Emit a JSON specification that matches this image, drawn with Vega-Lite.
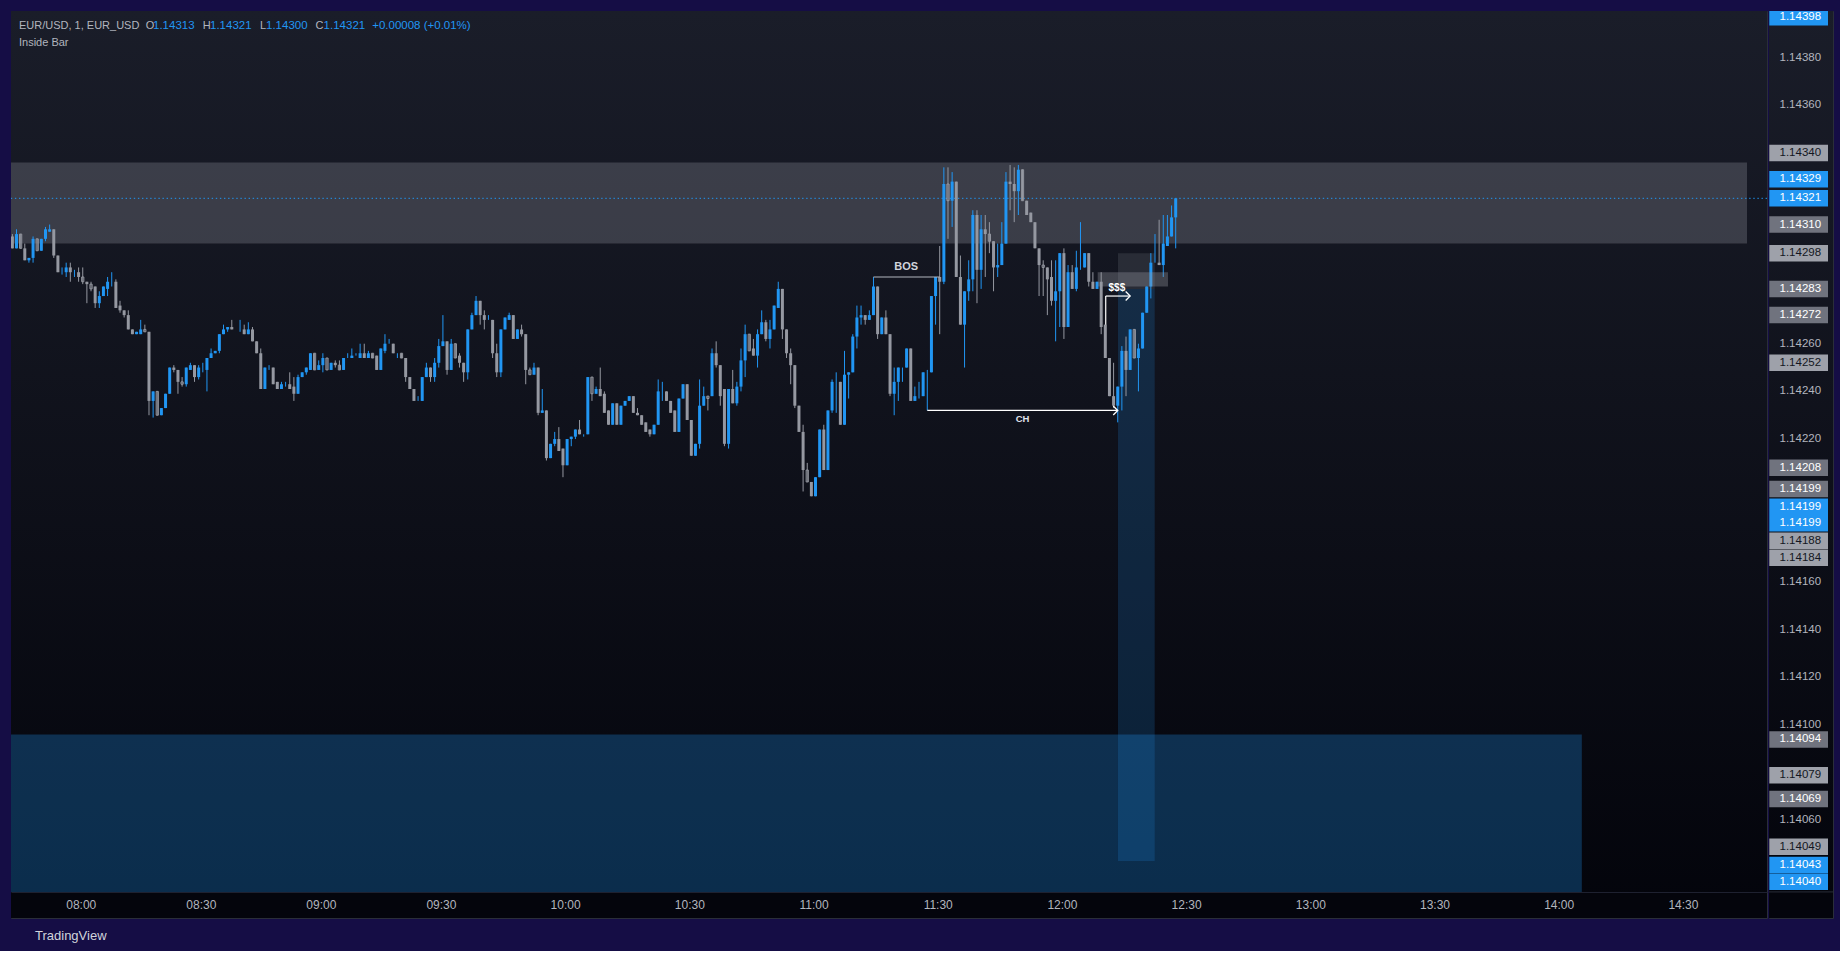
{
"$schema":"https://vega.github.io/schema/vega-lite/v6.json",
"background":"#150d45",
"padding":{"left":10,"top":10,"right":10,"bottom":8},
"spacing":0,
"config":{"font":"Liberation Sans","view":{"stroke":"#2a2e39","strokeWidth":1}},
"title":{"text":"TradingView","orient":"bottom","anchor":"start","frame":"group","offset":11,"dx":24,"fontSize":13,"fontWeight":"normal","color":"#d1d4dc","font":"Liberation Sans","baseline":"top"},
"datasets":{
"candles":[
{"i":1,"o":1.14305,"h":1.14306,"l":1.14300,"c":1.14300},
{"i":2,"o":1.14300,"h":1.14308,"l":1.14300,"c":1.14306},
{"i":3,"o":1.14306,"h":1.14306,"l":1.14300,"c":1.14300,"ib":1},
{"i":4,"o":1.14300,"h":1.14302,"l":1.14295,"c":1.14295},
{"i":5,"o":1.14295,"h":1.14296,"l":1.14294,"c":1.14296},
{"i":6,"o":1.14296,"h":1.14305,"l":1.14294,"c":1.14304},
{"i":7,"o":1.14304,"h":1.14304,"l":1.14299,"c":1.14299,"ib":1},
{"i":8,"o":1.14299,"h":1.14304,"l":1.14299,"c":1.14304},
{"i":9,"o":1.14304,"h":1.14309,"l":1.14303,"c":1.14308},
{"i":10,"o":1.14307,"h":1.14310,"l":1.14307,"c":1.14308},
{"i":11,"o":1.14308,"h":1.14308,"l":1.14296,"c":1.14297},
{"i":12,"o":1.14297,"h":1.14297,"l":1.14290,"c":1.14290},
{"i":13,"o":1.14290,"h":1.14292,"l":1.14289,"c":1.14290},
{"i":14,"o":1.14290,"h":1.14294,"l":1.14288,"c":1.14292},
{"i":15,"o":1.14292,"h":1.14294,"l":1.14286,"c":1.14290},
{"i":16,"o":1.14290,"h":1.14291,"l":1.14288,"c":1.14290},
{"i":17,"o":1.14290,"h":1.14292,"l":1.14286,"c":1.14288},
{"i":18,"o":1.14288,"h":1.14292,"l":1.14285,"c":1.14286,"ib":1},
{"i":19,"o":1.14286,"h":1.14286,"l":1.14277,"c":1.14285},
{"i":20,"o":1.14285,"h":1.14286,"l":1.14282,"c":1.14283,"ib":1},
{"i":21,"o":1.14284,"h":1.14284,"l":1.14275,"c":1.14277},
{"i":22,"o":1.14277,"h":1.14282,"l":1.14275,"c":1.14280},
{"i":23,"o":1.14280,"h":1.14284,"l":1.14280,"c":1.14284},
{"i":24,"o":1.14283,"h":1.14288,"l":1.14280,"c":1.14286},
{"i":25,"o":1.14286,"h":1.14290,"l":1.14284,"c":1.14286},
{"i":26,"o":1.14286,"h":1.14287,"l":1.14275,"c":1.14275},
{"i":27,"o":1.14276,"h":1.14278,"l":1.14273,"c":1.14274},
{"i":28,"o":1.14274,"h":1.14274,"l":1.14271,"c":1.14272},
{"i":29,"o":1.14272,"h":1.14274,"l":1.14266,"c":1.14266},
{"i":30,"o":1.14266,"h":1.14266,"l":1.14264,"c":1.14264},
{"i":31,"o":1.14264,"h":1.14265,"l":1.14264,"c":1.14265},
{"i":32,"o":1.14264,"h":1.14270,"l":1.14264,"c":1.14266},
{"i":33,"o":1.14266,"h":1.14268,"l":1.14265,"c":1.14265,"ib":1},
{"i":34,"o":1.14265,"h":1.14265,"l":1.14230,"c":1.14236},
{"i":35,"o":1.14236,"h":1.14240,"l":1.14229,"c":1.14240},
{"i":36,"o":1.14240,"h":1.14240,"l":1.14230,"c":1.14230,"ib":1},
{"i":37,"o":1.14230,"h":1.14233,"l":1.14230,"c":1.14233},
{"i":38,"o":1.14233,"h":1.14239,"l":1.14233,"c":1.14239},
{"i":39,"o":1.14239,"h":1.14250,"l":1.14239,"c":1.14250},
{"i":40,"o":1.14250,"h":1.14251,"l":1.14248,"c":1.14249},
{"i":41,"o":1.14249,"h":1.14249,"l":1.14239,"c":1.14244},
{"i":42,"o":1.14244,"h":1.14246,"l":1.14242,"c":1.14243,"ib":1},
{"i":43,"o":1.14243,"h":1.14250,"l":1.14242,"c":1.14250},
{"i":44,"o":1.14249,"h":1.14252,"l":1.14249,"c":1.14251},
{"i":45,"o":1.14251,"h":1.14251,"l":1.14244,"c":1.14246},
{"i":46,"o":1.14246,"h":1.14251,"l":1.14245,"c":1.14250},
{"i":47,"o":1.14250,"h":1.14252,"l":1.14248,"c":1.14250},
{"i":48,"o":1.14249,"h":1.14254,"l":1.14240,"c":1.14254},
{"i":49,"o":1.14254,"h":1.14258,"l":1.14254,"c":1.14256},
{"i":50,"o":1.14256,"h":1.14257,"l":1.14256,"c":1.14257},
{"i":51,"o":1.14257,"h":1.14264,"l":1.14256,"c":1.14264},
{"i":52,"o":1.14264,"h":1.14268,"l":1.14264,"c":1.14266},
{"i":53,"o":1.14266,"h":1.14267,"l":1.14265,"c":1.14267},
{"i":54,"o":1.14267,"h":1.14270,"l":1.14266,"c":1.14266},
{"i":55,"o":1.14266,"h":1.14266,"l":1.14266,"c":1.14266},
{"i":56,"o":1.14266,"h":1.14270,"l":1.14265,"c":1.14266},
{"i":57,"o":1.14266,"h":1.14268,"l":1.14264,"c":1.14264},
{"i":58,"o":1.14264,"h":1.14269,"l":1.14264,"c":1.14266},
{"i":59,"o":1.14266,"h":1.14267,"l":1.14261,"c":1.14261},
{"i":60,"o":1.14261,"h":1.14261,"l":1.14256,"c":1.14256},
{"i":61,"o":1.14256,"h":1.14258,"l":1.14241,"c":1.14241},
{"i":62,"o":1.14241,"h":1.14250,"l":1.14241,"c":1.14250},
{"i":63,"o":1.14250,"h":1.14251,"l":1.14249,"c":1.14250},
{"i":64,"o":1.14250,"h":1.14250,"l":1.14243,"c":1.14243},
{"i":65,"o":1.14244,"h":1.14244,"l":1.14241,"c":1.14241},
{"i":66,"o":1.14241,"h":1.14244,"l":1.14241,"c":1.14243},
{"i":67,"o":1.14243,"h":1.14244,"l":1.14242,"c":1.14243},
{"i":68,"o":1.14243,"h":1.14248,"l":1.14241,"c":1.14241},
{"i":69,"o":1.14242,"h":1.14246,"l":1.14236,"c":1.14239},
{"i":70,"o":1.14239,"h":1.14247,"l":1.14239,"c":1.14246},
{"i":71,"o":1.14246,"h":1.14248,"l":1.14246,"c":1.14248},
{"i":72,"o":1.14248,"h":1.14250,"l":1.14247,"c":1.14250},
{"i":73,"o":1.14249,"h":1.14256,"l":1.14249,"c":1.14256},
{"i":74,"o":1.14256,"h":1.14256,"l":1.14249,"c":1.14249,"ib":1},
{"i":75,"o":1.14249,"h":1.14253,"l":1.14249,"c":1.14251},
{"i":76,"o":1.14251,"h":1.14256,"l":1.14248,"c":1.14254},
{"i":77,"o":1.14254,"h":1.14254,"l":1.14249,"c":1.14249,"ib":1},
{"i":78,"o":1.14249,"h":1.14252,"l":1.14249,"c":1.14252},
{"i":79,"o":1.14252,"h":1.14253,"l":1.14250,"c":1.14251},
{"i":80,"o":1.14251,"h":1.14253,"l":1.14249,"c":1.14249,"ib":1},
{"i":81,"o":1.14249,"h":1.14254,"l":1.14249,"c":1.14254},
{"i":82,"o":1.14254,"h":1.14256,"l":1.14254,"c":1.14254},
{"i":83,"o":1.14254,"h":1.14258,"l":1.14254,"c":1.14255},
{"i":84,"o":1.14255,"h":1.14256,"l":1.14255,"c":1.14255},
{"i":85,"o":1.14254,"h":1.14260,"l":1.14254,"c":1.14256},
{"i":86,"o":1.14256,"h":1.14260,"l":1.14254,"c":1.14254},
{"i":87,"o":1.14254,"h":1.14257,"l":1.14254,"c":1.14256},
{"i":88,"o":1.14256,"h":1.14256,"l":1.14254,"c":1.14254,"ib":1},
{"i":89,"o":1.14255,"h":1.14255,"l":1.14249,"c":1.14249},
{"i":90,"o":1.14249,"h":1.14258,"l":1.14249,"c":1.14258},
{"i":91,"o":1.14257,"h":1.14264,"l":1.14256,"c":1.14260},
{"i":92,"o":1.14260,"h":1.14262,"l":1.14260,"c":1.14260},
{"i":93,"o":1.14260,"h":1.14260,"l":1.14256,"c":1.14256},
{"i":94,"o":1.14256,"h":1.14256,"l":1.14254,"c":1.14256},
{"i":95,"o":1.14256,"h":1.14256,"l":1.14254,"c":1.14254,"ib":1},
{"i":96,"o":1.14254,"h":1.14254,"l":1.14244,"c":1.14246},
{"i":97,"o":1.14246,"h":1.14246,"l":1.14241,"c":1.14241},
{"i":98,"o":1.14241,"h":1.14241,"l":1.14236,"c":1.14236},
{"i":99,"o":1.14236,"h":1.14238,"l":1.14236,"c":1.14236},
{"i":100,"o":1.14236,"h":1.14246,"l":1.14236,"c":1.14246},
{"i":101,"o":1.14246,"h":1.14252,"l":1.14246,"c":1.14250},
{"i":102,"o":1.14250,"h":1.14250,"l":1.14244,"c":1.14246},
{"i":103,"o":1.14246,"h":1.14254,"l":1.14244,"c":1.14252},
{"i":104,"o":1.14252,"h":1.14262,"l":1.14250,"c":1.14259},
{"i":105,"o":1.14259,"h":1.14272,"l":1.14259,"c":1.14261},
{"i":106,"o":1.14261,"h":1.14261,"l":1.14247,"c":1.14249},
{"i":107,"o":1.14249,"h":1.14262,"l":1.14249,"c":1.14260},
{"i":108,"o":1.14260,"h":1.14260,"l":1.14254,"c":1.14254,"ib":1},
{"i":109,"o":1.14255,"h":1.14256,"l":1.14250,"c":1.14252},
{"i":110,"o":1.14252,"h":1.14252,"l":1.14244,"c":1.14248},
{"i":111,"o":1.14248,"h":1.14266,"l":1.14245,"c":1.14266},
{"i":112,"o":1.14266,"h":1.14273,"l":1.14266,"c":1.14272},
{"i":113,"o":1.14272,"h":1.14280,"l":1.14272,"c":1.14278},
{"i":114,"o":1.14278,"h":1.14278,"l":1.14268,"c":1.14272},
{"i":115,"o":1.14272,"h":1.14274,"l":1.14266,"c":1.14270},
{"i":116,"o":1.14270,"h":1.14272,"l":1.14270,"c":1.14270},
{"i":117,"o":1.14270,"h":1.14270,"l":1.14254,"c":1.14256},
{"i":118,"o":1.14256,"h":1.14260,"l":1.14246,"c":1.14248},
{"i":119,"o":1.14248,"h":1.14266,"l":1.14246,"c":1.14266},
{"i":120,"o":1.14266,"h":1.14271,"l":1.14266,"c":1.14271},
{"i":121,"o":1.14270,"h":1.14273,"l":1.14270,"c":1.14272},
{"i":122,"o":1.14272,"h":1.14272,"l":1.14262,"c":1.14262},
{"i":123,"o":1.14262,"h":1.14266,"l":1.14262,"c":1.14266},
{"i":124,"o":1.14266,"h":1.14268,"l":1.14263,"c":1.14264},
{"i":125,"o":1.14264,"h":1.14264,"l":1.14243,"c":1.14249},
{"i":126,"o":1.14249,"h":1.14250,"l":1.14247,"c":1.14247,"ib":1},
{"i":127,"o":1.14247,"h":1.14252,"l":1.14247,"c":1.14250},
{"i":128,"o":1.14250,"h":1.14250,"l":1.14230,"c":1.14231},
{"i":129,"o":1.14231,"h":1.14241,"l":1.14231,"c":1.14232},
{"i":130,"o":1.14232,"h":1.14232,"l":1.14211,"c":1.14212},
{"i":131,"o":1.14212,"h":1.14218,"l":1.14212,"c":1.14218},
{"i":132,"o":1.14218,"h":1.14223,"l":1.14217,"c":1.14220},
{"i":133,"o":1.14220,"h":1.14225,"l":1.14215,"c":1.14215},
{"i":134,"o":1.14216,"h":1.14216,"l":1.14204,"c":1.14209},
{"i":135,"o":1.14209,"h":1.14220,"l":1.14209,"c":1.14220},
{"i":136,"o":1.14220,"h":1.14221,"l":1.14217,"c":1.14221},
{"i":137,"o":1.14221,"h":1.14224,"l":1.14220,"c":1.14224},
{"i":138,"o":1.14224,"h":1.14228,"l":1.14222,"c":1.14222},
{"i":139,"o":1.14222,"h":1.14222,"l":1.14221,"c":1.14222},
{"i":140,"o":1.14222,"h":1.14246,"l":1.14222,"c":1.14246},
{"i":141,"o":1.14246,"h":1.14246,"l":1.14236,"c":1.14239,"ib":1},
{"i":142,"o":1.14239,"h":1.14242,"l":1.14239,"c":1.14241},
{"i":143,"o":1.14241,"h":1.14250,"l":1.14238,"c":1.14238},
{"i":144,"o":1.14239,"h":1.14240,"l":1.14231,"c":1.14231},
{"i":145,"o":1.14232,"h":1.14232,"l":1.14226,"c":1.14226},
{"i":146,"o":1.14226,"h":1.14235,"l":1.14226,"c":1.14235},
{"i":147,"o":1.14235,"h":1.14235,"l":1.14226,"c":1.14226},
{"i":148,"o":1.14226,"h":1.14234,"l":1.14226,"c":1.14234},
{"i":149,"o":1.14234,"h":1.14236,"l":1.14234,"c":1.14236},
{"i":150,"o":1.14236,"h":1.14238,"l":1.14236,"c":1.14238},
{"i":151,"o":1.14238,"h":1.14238,"l":1.14231,"c":1.14231},
{"i":152,"o":1.14231,"h":1.14233,"l":1.14230,"c":1.14230},
{"i":153,"o":1.14230,"h":1.14230,"l":1.14226,"c":1.14226},
{"i":154,"o":1.14227,"h":1.14227,"l":1.14223,"c":1.14223},
{"i":155,"o":1.14224,"h":1.14224,"l":1.14221,"c":1.14222},
{"i":156,"o":1.14222,"h":1.14226,"l":1.14222,"c":1.14226},
{"i":157,"o":1.14226,"h":1.14245,"l":1.14226,"c":1.14240},
{"i":158,"o":1.14240,"h":1.14244,"l":1.14236,"c":1.14240},
{"i":159,"o":1.14240,"h":1.14240,"l":1.14236,"c":1.14236},
{"i":160,"o":1.14236,"h":1.14236,"l":1.14231,"c":1.14231},
{"i":161,"o":1.14232,"h":1.14232,"l":1.14223,"c":1.14223},
{"i":162,"o":1.14223,"h":1.14237,"l":1.14223,"c":1.14237},
{"i":163,"o":1.14237,"h":1.14243,"l":1.14237,"c":1.14243},
{"i":164,"o":1.14243,"h":1.14243,"l":1.14228,"c":1.14228},
{"i":165,"o":1.14228,"h":1.14228,"l":1.14213,"c":1.14213},
{"i":166,"o":1.14213,"h":1.14218,"l":1.14213,"c":1.14218},
{"i":167,"o":1.14218,"h":1.14245,"l":1.14216,"c":1.14234},
{"i":168,"o":1.14234,"h":1.14242,"l":1.14234,"c":1.14238},
{"i":169,"o":1.14238,"h":1.14238,"l":1.14232,"c":1.14237,"ib":1},
{"i":170,"o":1.14238,"h":1.14258,"l":1.14238,"c":1.14256},
{"i":171,"o":1.14256,"h":1.14261,"l":1.14250,"c":1.14251},
{"i":172,"o":1.14251,"h":1.14251,"l":1.14234,"c":1.14238},
{"i":173,"o":1.14241,"h":1.14241,"l":1.14217,"c":1.14218},
{"i":174,"o":1.14218,"h":1.14241,"l":1.14216,"c":1.14241},
{"i":175,"o":1.14241,"h":1.14249,"l":1.14235,"c":1.14235},
{"i":176,"o":1.14235,"h":1.14244,"l":1.14234,"c":1.14242},
{"i":177,"o":1.14242,"h":1.14258,"l":1.14240,"c":1.14253},
{"i":178,"o":1.14253,"h":1.14268,"l":1.14246,"c":1.14264},
{"i":179,"o":1.14264,"h":1.14264,"l":1.14257,"c":1.14257,"ib":1},
{"i":180,"o":1.14258,"h":1.14262,"l":1.14255,"c":1.14255},
{"i":181,"o":1.14255,"h":1.14266,"l":1.14250,"c":1.14264},
{"i":182,"o":1.14264,"h":1.14274,"l":1.14264,"c":1.14269},
{"i":183,"o":1.14269,"h":1.14270,"l":1.14261,"c":1.14262},
{"i":184,"o":1.14262,"h":1.14270,"l":1.14258,"c":1.14266},
{"i":185,"o":1.14266,"h":1.14276,"l":1.14266,"c":1.14276},
{"i":186,"o":1.14275,"h":1.14286,"l":1.14275,"c":1.14283},
{"i":187,"o":1.14283,"h":1.14283,"l":1.14262,"c":1.14266},
{"i":188,"o":1.14266,"h":1.14266,"l":1.14254,"c":1.14256},
{"i":189,"o":1.14256,"h":1.14258,"l":1.14243,"c":1.14251},
{"i":190,"o":1.14251,"h":1.14251,"l":1.14233,"c":1.14234},
{"i":191,"o":1.14234,"h":1.14234,"l":1.14223,"c":1.14223},
{"i":192,"o":1.14223,"h":1.14226,"l":1.14198,"c":1.14207},
{"i":193,"o":1.14207,"h":1.14210,"l":1.14202,"c":1.14202,"ib":1},
{"i":194,"o":1.14202,"h":1.14202,"l":1.14196,"c":1.14196},
{"i":195,"o":1.14196,"h":1.14204,"l":1.14196,"c":1.14204},
{"i":196,"o":1.14204,"h":1.14224,"l":1.14204,"c":1.14224},
{"i":197,"o":1.14224,"h":1.14226,"l":1.14207,"c":1.14207},
{"i":198,"o":1.14207,"h":1.14232,"l":1.14207,"c":1.14232},
{"i":199,"o":1.14232,"h":1.14245,"l":1.14231,"c":1.14244},
{"i":200,"o":1.14244,"h":1.14248,"l":1.14231,"c":1.14244},
{"i":201,"o":1.14244,"h":1.14244,"l":1.14226,"c":1.14226},
{"i":202,"o":1.14226,"h":1.14257,"l":1.14226,"c":1.14247},
{"i":203,"o":1.14247,"h":1.14248,"l":1.14237,"c":1.14248},
{"i":204,"o":1.14248,"h":1.14264,"l":1.14248,"c":1.14263},
{"i":205,"o":1.14263,"h":1.14276,"l":1.14258,"c":1.14271},
{"i":206,"o":1.14271,"h":1.14276,"l":1.14268,"c":1.14272},
{"i":207,"o":1.14272,"h":1.14272,"l":1.14268,"c":1.14270},
{"i":208,"o":1.14270,"h":1.14274,"l":1.14270,"c":1.14272},
{"i":209,"o":1.14272,"h":1.14288,"l":1.14272,"c":1.14284},
{"i":210,"o":1.14284,"h":1.14284,"l":1.14262,"c":1.14264},
{"i":211,"o":1.14264,"h":1.14271,"l":1.14264,"c":1.14271},
{"i":212,"o":1.14271,"h":1.14274,"l":1.14264,"c":1.14264},
{"i":213,"o":1.14264,"h":1.14264,"l":1.14238,"c":1.14239},
{"i":214,"o":1.14239,"h":1.14250,"l":1.14230,"c":1.14244},
{"i":215,"o":1.14244,"h":1.14250,"l":1.14236,"c":1.14250},
{"i":216,"o":1.14250,"h":1.14250,"l":1.14244,"c":1.14250},
{"i":217,"o":1.14250,"h":1.14258,"l":1.14250,"c":1.14258},
{"i":218,"o":1.14258,"h":1.14258,"l":1.14236,"c":1.14236},
{"i":219,"o":1.14236,"h":1.14242,"l":1.14236,"c":1.14238},
{"i":220,"o":1.14238,"h":1.14244,"l":1.14237,"c":1.14238},
{"i":221,"o":1.14238,"h":1.14248,"l":1.14238,"c":1.14248},
{"i":222,"o":1.14248,"h":1.14249,"l":1.14232,"c":1.14248},
{"i":223,"o":1.14248,"h":1.14280,"l":1.14248,"c":1.14280},
{"i":224,"o":1.14280,"h":1.14288,"l":1.14268,"c":1.14288},
{"i":225,"o":1.14288,"h":1.14301,"l":1.14264,"c":1.14286},
{"i":226,"o":1.14286,"h":1.14334,"l":1.14285,"c":1.14327},
{"i":227,"o":1.14327,"h":1.14334,"l":1.14304,"c":1.14320,"ib":1},
{"i":228,"o":1.14320,"h":1.14332,"l":1.14309,"c":1.14328},
{"i":229,"o":1.14328,"h":1.14328,"l":1.14288,"c":1.14288},
{"i":230,"o":1.14288,"h":1.14297,"l":1.14268,"c":1.14268},
{"i":231,"o":1.14268,"h":1.14282,"l":1.14250,"c":1.14282},
{"i":232,"o":1.14282,"h":1.14295,"l":1.14278,"c":1.14287},
{"i":233,"o":1.14287,"h":1.14316,"l":1.14282,"c":1.14314},
{"i":234,"o":1.14314,"h":1.14316,"l":1.14277,"c":1.14291},
{"i":235,"o":1.14291,"h":1.14314,"l":1.14283,"c":1.14308},
{"i":236,"o":1.14308,"h":1.14314,"l":1.14288,"c":1.14306},
{"i":237,"o":1.14306,"h":1.14311,"l":1.14298,"c":1.14303,"ib":1},
{"i":238,"o":1.14303,"h":1.14303,"l":1.14282,"c":1.14292},
{"i":239,"o":1.14292,"h":1.14302,"l":1.14288,"c":1.14293},
{"i":240,"o":1.14293,"h":1.14311,"l":1.14293,"c":1.14302},
{"i":241,"o":1.14302,"h":1.14332,"l":1.14302,"c":1.14328},
{"i":242,"o":1.14328,"h":1.14335,"l":1.14316,"c":1.14327},
{"i":243,"o":1.14327,"h":1.14334,"l":1.14311,"c":1.14324},
{"i":244,"o":1.14324,"h":1.14335,"l":1.14314,"c":1.14333},
{"i":245,"o":1.14333,"h":1.14333,"l":1.14320,"c":1.14320,"ib":1},
{"i":246,"o":1.14320,"h":1.14320,"l":1.14314,"c":1.14314},
{"i":247,"o":1.14315,"h":1.14315,"l":1.14311,"c":1.14311},
{"i":248,"o":1.14311,"h":1.14311,"l":1.14300,"c":1.14300},
{"i":249,"o":1.14300,"h":1.14300,"l":1.14280,"c":1.14293},
{"i":250,"o":1.14293,"h":1.14295,"l":1.14280,"c":1.14292,"ib":1},
{"i":251,"o":1.14292,"h":1.14292,"l":1.14272,"c":1.14287},
{"i":252,"o":1.14288,"h":1.14295,"l":1.14276,"c":1.14278},
{"i":253,"o":1.14278,"h":1.14295,"l":1.14261,"c":1.14282},
{"i":254,"o":1.14282,"h":1.14298,"l":1.14267,"c":1.14298},
{"i":255,"o":1.14298,"h":1.14300,"l":1.14262,"c":1.14267},
{"i":256,"o":1.14267,"h":1.14293,"l":1.14267,"c":1.14290},
{"i":257,"o":1.14290,"h":1.14293,"l":1.14283,"c":1.14283},
{"i":258,"o":1.14283,"h":1.14299,"l":1.14282,"c":1.14292},
{"i":259,"o":1.14292,"h":1.14311,"l":1.14291,"c":1.14292},
{"i":260,"o":1.14292,"h":1.14298,"l":1.14292,"c":1.14298},
{"i":261,"o":1.14298,"h":1.14298,"l":1.14284,"c":1.14286},
{"i":262,"o":1.14286,"h":1.14290,"l":1.14283,"c":1.14283},
{"i":263,"o":1.14283,"h":1.14286,"l":1.14283,"c":1.14286},
{"i":264,"o":1.14286,"h":1.14290,"l":1.14264,"c":1.14267},
{"i":265,"o":1.14268,"h":1.14268,"l":1.14254,"c":1.14254},
{"i":266,"o":1.14254,"h":1.14254,"l":1.14238,"c":1.14238},
{"i":267,"o":1.14238,"h":1.14252,"l":1.14233,"c":1.14234},
{"i":268,"o":1.14234,"h":1.14242,"l":1.14227,"c":1.14242},
{"i":269,"o":1.14242,"h":1.14259,"l":1.14232,"c":1.14257},
{"i":270,"o":1.14257,"h":1.14263,"l":1.14238,"c":1.14249},
{"i":271,"o":1.14249,"h":1.14266,"l":1.14249,"c":1.14266},
{"i":272,"o":1.14266,"h":1.14266,"l":1.14254,"c":1.14254,"ib":1},
{"i":273,"o":1.14254,"h":1.14260,"l":1.14240,"c":1.14258},
{"i":274,"o":1.14258,"h":1.14273,"l":1.14258,"c":1.14273},
{"i":275,"o":1.14273,"h":1.14284,"l":1.14273,"c":1.14284},
{"i":276,"o":1.14284,"h":1.14298,"l":1.14279,"c":1.14294},
{"i":277,"o":1.14294,"h":1.14306,"l":1.14294,"c":1.14294},
{"i":278,"o":1.14294,"h":1.14312,"l":1.14293,"c":1.14293},
{"i":279,"o":1.14293,"h":1.14314,"l":1.14288,"c":1.14302},
{"i":280,"o":1.14301,"h":1.14314,"l":1.14301,"c":1.14305},
{"i":281,"o":1.14305,"h":1.14318,"l":1.14305,"c":1.14313},
{"i":282,"o":1.14313,"h":1.14321,"l":1.14300,"c":1.14321}
],
"zones":[
{"z":"supply","x1":0.67,"x2":420.0,"y1":1.14302,"y2":1.14336},
{"z":"demand","x1":0.67,"x2":380.1,"y1":1.1403,"y2":1.14096},
{"z":"column","x1":268.06,"x2":276.93,"y1":1.14043,"y2":1.14283},
{"z":"boxA","x1":268.06,"x2":276.93,"y1":1.14283,"y2":1.14298},
{"z":"boxB","x1":263.16,"x2":280.14,"y1":1.14284,"y2":1.1429}
],
"lines":[
{"n":"BOS","x1":209,"x2":225,"p":1.14288},
{"n":"CH","x1":222,"x2":268,"p":1.14232},
{"n":"$$$","x1":265.1,"x2":271,"p":1.1428}
],
"ticks":[{"v":1.1438},{"v":1.1436},{"v":1.1426},{"v":1.1424},{"v":1.1422},{"v":1.1416},{"v":1.1414},{"v":1.1412},{"v":1.141},{"v":1.1406}],
"tags":[
{"id":1,"v":1.14398,"k":"b"},
{"id":2,"v":1.1434,"k":"l"},
{"id":3,"v":1.14329,"k":"b"},
{"id":4,"v":1.14321,"k":"b"},
{"id":5,"v":1.1431,"k":"d"},
{"id":6,"v":1.14298,"k":"l"},
{"id":7,"v":1.14283,"k":"d"},
{"id":8,"v":1.14272,"k":"d"},
{"id":9,"v":1.14252,"k":"l"},
{"id":10,"v":1.14208,"k":"d"},
{"id":11,"v":1.14199,"k":"d"},
{"id":12,"v":1.14199,"k":"b"},
{"id":13,"v":1.14199,"k":"b"},
{"id":14,"v":1.14188,"k":"l"},
{"id":15,"v":1.14184,"k":"l"},
{"id":16,"v":1.14094,"k":"d"},
{"id":17,"v":1.14079,"k":"l"},
{"id":18,"v":1.14069,"k":"d"},
{"id":19,"v":1.14049,"k":"l"},
{"id":20,"v":1.14043,"k":"b"},
{"id":21,"v":1.1404,"k":"b"}
]
},
"hconcat":[
{
"width":1756,"height":907,
"layer":[
{"data":{"values":[{}]},"mark":{"type":"rect","color":{"gradient":"linear","x1":0,"y1":0,"x2":0,"y2":1,"stops":[{"offset":0,"color":"#1a1d29"},{"offset":1,"color":"#03040b"}]}},
 "encoding":{"x":{"datum":0.67,"type":"quantitative","title":null,"scale":{"domain":[0.67,424.83],"nice":false,"zero":false,"padding":0},
   "axis":{"values":[18,47,76,105,135,165,195,225,255,285,315,345,375,405],"labelExpr":"['08:00','08:30','09:00','09:30','10:00','10:30','11:00','11:30','12:00','12:30','13:00','13:30','14:00','14:30'][indexof([18,47,76,105,135,165,195,225,255,285,315,345,375,405], datum.value)]","orient":"bottom","offset":-26,"ticks":false,"grid":false,"domain":true,"domainColor":"#1e2130","labelColor":"#b2b5be","labelFontSize":12,"labelFont":"Liberation Sans","labelPadding":7,"labelOffset":-2,"labelOverlap":false,"labelFlush":false,"labelBound":false,"zindex":1,"title":null}},
  "x2":{"datum":424.83},
  "y":{"datum":1.1401906,"type":"quantitative","axis":null,"scale":{"domain":[1.1401906,1.1439959],"nice":false,"zero":false,"padding":0}},
  "y2":{"datum":1.1439959}}},
{"data":{"name":"zones"},"transform":[{"filter":"datum.z=='supply'"}],"mark":{"type":"rect","color":"#787b86","opacity":0.38},
 "encoding":{"x":{"field":"x1","type":"quantitative","title":null},"x2":{"field":"x2"},"y":{"field":"y1","type":"quantitative","axis":null},"y2":{"field":"y2"}}},
{"data":{"name":"zones"},"transform":[{"filter":"datum.z=='demand'"}],"mark":{"type":"rect","color":"#2196f3","opacity":0.28},
 "encoding":{"x":{"field":"x1","type":"quantitative","title":null},"x2":{"field":"x2"},"y":{"field":"y1","type":"quantitative","axis":null},"y2":{"field":"y2"}}},
{"data":{"name":"zones"},"transform":[{"filter":"datum.z=='column'"}],"mark":{"type":"rect","color":"#2196f3","opacity":0.18},
 "encoding":{"x":{"field":"x1","type":"quantitative","title":null},"x2":{"field":"x2"},"y":{"field":"y1","type":"quantitative","axis":null},"y2":{"field":"y2"}}},
{"data":{"name":"zones"},"transform":[{"filter":"datum.z=='boxA'"}],"mark":{"type":"rect","color":"#787b86","opacity":0.22},
 "encoding":{"x":{"field":"x1","type":"quantitative","title":null},"x2":{"field":"x2"},"y":{"field":"y1","type":"quantitative","axis":null},"y2":{"field":"y2"}}},
{"data":{"values":[{}]},"mark":{"type":"rect","color":"#04050c"},
 "encoding":{"x":{"datum":0.67,"type":"quantitative","title":null},"x2":{"datum":424.83},"y":{"datum":1.1401906,"type":"quantitative","axis":null},"y2":{"datum":1.1403}}},
{"data":{"values":[{}]},"mark":{"type":"rule","color":"#2196f3","strokeWidth":1,"strokeDash":[1.4,2.7]},
 "encoding":{"y":{"datum":1.14321,"type":"quantitative","axis":null}}},
{"data":{"name":"candles"},"mark":{"type":"rule","strokeWidth":1,"clip":true},
 "encoding":{"x":{"field":"i","type":"quantitative","title":null},"y":{"field":"l","type":"quantitative","axis":null},"y2":{"field":"h"},
  "color":{"condition":{"test":"datum.c>=datum.o && !datum.ib","value":"#2196f3"},"value":"#9598a1"}}},
{"data":{"name":"candles"},"transform":[{"filter":"!datum.ib"}],"mark":{"type":"bar","width":3,"minBandSize":1,"clip":true},
 "encoding":{"x":{"field":"i","type":"quantitative","title":null},"y":{"field":"o","type":"quantitative","axis":null},"y2":{"field":"c"},
  "color":{"condition":{"test":"datum.c>=datum.o","value":"#2196f3"},"value":"#9598a1"}}},
{"data":{"name":"candles"},"transform":[{"filter":"datum.ib==1"}],"mark":{"type":"bar","width":2.2,"filled":false,"strokeWidth":1,"color":"#9598a1","clip":true},
 "encoding":{"x":{"field":"i","type":"quantitative","title":null},"y":{"field":"o","type":"quantitative","axis":null},"y2":{"field":"c"}}},
{"data":{"name":"zones"},"transform":[{"filter":"datum.z=='boxB'"}],"mark":{"type":"rect","color":"#9598a1","opacity":0.35},
 "encoding":{"x":{"field":"x1","type":"quantitative","title":null},"x2":{"field":"x2"},"y":{"field":"y1","type":"quantitative","axis":null},"y2":{"field":"y2"}}},
{"data":{"name":"lines"},"mark":{"type":"rule","strokeWidth":1.2},
 "encoding":{"x":{"field":"x1","type":"quantitative","title":null},"x2":{"field":"x2"},"y":{"field":"p","type":"quantitative","axis":null},
  "color":{"condition":{"test":"datum.n=='BOS'","value":"#b2b5be"},"value":"#ffffff"}}},
{"data":{"values":[{}]},"mark":{"type":"rule","strokeWidth":1.2,"color":"#ffffff"},
 "encoding":{"x":{"datum":265.1,"type":"quantitative","title":null},"y":{"datum":1.14268,"type":"quantitative","axis":null},"y2":{"datum":1.1428}}},
{"data":{"name":"lines"},"transform":[{"filter":"datum.n!='BOS'"}],"mark":{"type":"point","shape":"M-1,-1L0,0L-1,1","filled":false,"size":81,"strokeWidth":1.3,"color":"#ffffff","opacity":1},
 "encoding":{"x":{"field":"x2","type":"quantitative","title":null},"y":{"field":"p","type":"quantitative","axis":null}}},
{"data":{"values":[{}]},"mark":{"type":"text","text":"BOS","align":"center","baseline":"middle","fontSize":11,"fontWeight":"bold","color":"#d1d4dc"},
 "encoding":{"x":{"datum":216.9,"type":"quantitative","title":null},"y":{"datum":1.142923,"type":"quantitative","axis":null}}},
{"data":{"values":[{}]},"mark":{"type":"text","text":"CH","align":"center","baseline":"middle","fontSize":9.5,"fontWeight":"bold","color":"#e0e3eb"},
 "encoding":{"x":{"datum":245.0,"type":"quantitative","title":null},"y":{"datum":1.142283,"type":"quantitative","axis":null}}},
{"data":{"values":[{}]},"mark":{"type":"text","text":"$$$","align":"center","baseline":"middle","fontSize":10,"fontWeight":"bold","color":"#ffffff"},
 "encoding":{"x":{"datum":267.8,"type":"quantitative","title":null},"y":{"datum":1.142835,"type":"quantitative","axis":null}}},
{"data":{"values":[{}]},"mark":{"type":"text","text":"EUR/USD, 1, EUR_USD","align":"left","baseline":"middle","fontSize":11,"color":"#b2b5be"},
 "encoding":{"x":{"datum":2.6,"type":"quantitative","title":null},"y":{"datum":1.143933,"type":"quantitative","axis":null}}},
{"data":{"values":[{}]},"mark":{"type":"text","text":"O","align":"left","baseline":"middle","fontSize":11,"color":"#b2b5be"},
 "encoding":{"x":{"datum":33.21,"type":"quantitative","title":null},"y":{"datum":1.143933,"type":"quantitative","axis":null}}},
{"data":{"values":[{}]},"mark":{"type":"text","text":"1.14313","align":"left","baseline":"middle","fontSize":11.5,"color":"#2196f3"},
 "encoding":{"x":{"datum":34.97,"type":"quantitative","title":null},"y":{"datum":1.143933,"type":"quantitative","axis":null}}},
{"data":{"values":[{}]},"mark":{"type":"text","text":"H","align":"left","baseline":"middle","fontSize":11,"color":"#b2b5be"},
 "encoding":{"x":{"datum":46.98,"type":"quantitative","title":null},"y":{"datum":1.143933,"type":"quantitative","axis":null}}},
{"data":{"values":[{}]},"mark":{"type":"text","text":"1.14321","align":"left","baseline":"middle","fontSize":11.5,"color":"#2196f3"},
 "encoding":{"x":{"datum":48.74,"type":"quantitative","title":null},"y":{"datum":1.143933,"type":"quantitative","axis":null}}},
{"data":{"values":[{}]},"mark":{"type":"text","text":"L","align":"left","baseline":"middle","fontSize":11,"color":"#b2b5be"},
 "encoding":{"x":{"datum":60.82,"type":"quantitative","title":null},"y":{"datum":1.143933,"type":"quantitative","axis":null}}},
{"data":{"values":[{}]},"mark":{"type":"text","text":"1.14300","align":"left","baseline":"middle","fontSize":11.5,"color":"#2196f3"},
 "encoding":{"x":{"datum":62.27,"type":"quantitative","title":null},"y":{"datum":1.143933,"type":"quantitative","axis":null}}},
{"data":{"values":[{}]},"mark":{"type":"text","text":"C","align":"left","baseline":"middle","fontSize":11,"color":"#b2b5be"},
 "encoding":{"x":{"datum":74.25,"type":"quantitative","title":null},"y":{"datum":1.143933,"type":"quantitative","axis":null}}},
{"data":{"values":[{}]},"mark":{"type":"text","text":"1.14321","align":"left","baseline":"middle","fontSize":11.5,"color":"#2196f3"},
 "encoding":{"x":{"datum":76.18,"type":"quantitative","title":null},"y":{"datum":1.143933,"type":"quantitative","axis":null}}},
{"data":{"values":[{}]},"mark":{"type":"text","text":"+0.00008 (+0.01%)","align":"left","baseline":"middle","fontSize":11.5,"color":"#2196f3"},
 "encoding":{"x":{"datum":87.92,"type":"quantitative","title":null},"y":{"datum":1.143933,"type":"quantitative","axis":null}}},
{"data":{"values":[{}]},"mark":{"type":"text","text":"Inside Bar","align":"left","baseline":"middle","fontSize":11,"color":"#b2b5be"},
 "encoding":{"x":{"datum":2.6,"type":"quantitative","title":null},"y":{"datum":1.143863,"type":"quantitative","axis":null}}}
]
},
{
"width":64,"height":907,
"layer":[
{"data":{"values":[{}]},"mark":{"type":"rect","color":{"gradient":"linear","x1":0,"y1":0,"x2":0,"y2":1,"stops":[{"offset":0,"color":"#1a1d29"},{"offset":1,"color":"#03040b"}]}},
 "encoding":{"x":{"datum":0,"type":"quantitative","axis":null,"scale":{"domain":[0,64],"nice":false,"zero":false,"padding":0}},"x2":{"datum":64},
  "y":{"datum":1.1401906,"type":"quantitative","axis":null,"scale":{"domain":[1.1401906,1.1439959],"nice":false,"zero":false,"padding":0}},"y2":{"datum":1.1439959}}},
{"data":{"values":[{}]},"mark":{"type":"rect","color":"#04050c"},
 "encoding":{"x":{"datum":0,"type":"quantitative","axis":null},"x2":{"datum":64},"y":{"datum":1.1401906,"type":"quantitative","axis":null},"y2":{"datum":1.1403}}},
{"data":{"values":[{}]},"mark":{"type":"rule","color":"#2a2e39","strokeWidth":1},
 "encoding":{"y":{"datum":1.1403,"type":"quantitative","axis":null}}},
{"data":{"name":"ticks"},"mark":{"type":"text","align":"left","baseline":"middle","fontSize":11.5,"color":"#b2b5be","clip":true},
 "encoding":{"x":{"datum":10.5,"type":"quantitative","axis":null},"y":{"field":"v","type":"quantitative","axis":null},"text":{"field":"v","type":"quantitative","format":".5f"}}},
{"data":{"name":"tags"},"transform":[{"filter":"(datum.id>=2 && datum.id<=11) || (datum.id>=16 && datum.id<=19)"}],
 "layer":[
  {"mark":{"type":"tick","orient":"horizontal","size":58.7,"thickness":16.5,"opacity":1,"clip":true},
   "encoding":{"x":{"datum":29.65,"type":"quantitative","axis":null},"y":{"field":"v","type":"quantitative","axis":null},"color":{"field":"k","type":"nominal","scale":{"domain":["b","d","l"],"range":["#2196f3","#70737e","#9ea1aa"]},"legend":null}}},
  {"mark":{"type":"text","align":"left","baseline":"middle","fontSize":11.5,"clip":true},
   "encoding":{"x":{"datum":10.5,"type":"quantitative","axis":null},"y":{"field":"v","type":"quantitative","axis":null},"text":{"field":"v","type":"quantitative","format":".5f"},"color":{"condition":{"test":"datum.k=='l'","value":"#131722"},"value":"#ffffff"}}}
 ]},
{"data":{"name":"tags"},"transform":[{"filter":"datum.id==1"}],
 "layer":[
  {"mark":{"type":"tick","orient":"horizontal","size":58.7,"thickness":16.5,"opacity":1,"clip":true,"yOffset":2.5},
   "encoding":{"x":{"datum":29.65,"type":"quantitative","axis":null},"y":{"field":"v","type":"quantitative","axis":null},"color":{"field":"k","type":"nominal","legend":null}}},
  {"mark":{"type":"text","align":"left","baseline":"middle","fontSize":11.5,"clip":true,"yOffset":2.5},
   "encoding":{"x":{"datum":10.5,"type":"quantitative","axis":null},"y":{"field":"v","type":"quantitative","axis":null},"text":{"field":"v","type":"quantitative","format":".5f"},"color":{"condition":{"test":"datum.k=='l'","value":"#131722"},"value":"#ffffff"}}}
 ]},
{"data":{"name":"tags"},"transform":[{"filter":"datum.id==12"}],
 "layer":[
  {"mark":{"type":"tick","orient":"horizontal","size":58.7,"thickness":16.5,"opacity":1,"clip":true,"yOffset":17.6},
   "encoding":{"x":{"datum":29.65,"type":"quantitative","axis":null},"y":{"field":"v","type":"quantitative","axis":null},"color":{"field":"k","type":"nominal","legend":null}}},
  {"mark":{"type":"text","align":"left","baseline":"middle","fontSize":11.5,"clip":true,"yOffset":17.6},
   "encoding":{"x":{"datum":10.5,"type":"quantitative","axis":null},"y":{"field":"v","type":"quantitative","axis":null},"text":{"field":"v","type":"quantitative","format":".5f"},"color":{"condition":{"test":"datum.k=='l'","value":"#131722"},"value":"#ffffff"}}}
 ]},
{"data":{"name":"tags"},"transform":[{"filter":"datum.id==13"}],
 "layer":[
  {"mark":{"type":"tick","orient":"horizontal","size":58.7,"thickness":16.5,"opacity":1,"clip":true,"yOffset":34.2},
   "encoding":{"x":{"datum":29.65,"type":"quantitative","axis":null},"y":{"field":"v","type":"quantitative","axis":null},"color":{"field":"k","type":"nominal","legend":null}}},
  {"mark":{"type":"text","align":"left","baseline":"middle","fontSize":11.5,"clip":true,"yOffset":34.2},
   "encoding":{"x":{"datum":10.5,"type":"quantitative","axis":null},"y":{"field":"v","type":"quantitative","axis":null},"text":{"field":"v","type":"quantitative","format":".5f"},"color":{"condition":{"test":"datum.k=='l'","value":"#131722"},"value":"#ffffff"}}}
 ]},
{"data":{"name":"tags"},"transform":[{"filter":"datum.id==14"}],
 "layer":[
  {"mark":{"type":"tick","orient":"horizontal","size":58.7,"thickness":16.5,"opacity":1,"clip":true,"yOffset":25.4},
   "encoding":{"x":{"datum":29.65,"type":"quantitative","axis":null},"y":{"field":"v","type":"quantitative","axis":null},"color":{"field":"k","type":"nominal","legend":null}}},
  {"mark":{"type":"text","align":"left","baseline":"middle","fontSize":11.5,"clip":true,"yOffset":25.4},
   "encoding":{"x":{"datum":10.5,"type":"quantitative","axis":null},"y":{"field":"v","type":"quantitative","axis":null},"text":{"field":"v","type":"quantitative","format":".5f"},"color":{"condition":{"test":"datum.k=='l'","value":"#131722"},"value":"#ffffff"}}}
 ]},
{"data":{"name":"tags"},"transform":[{"filter":"datum.id==15"}],
 "layer":[
  {"mark":{"type":"tick","orient":"horizontal","size":58.7,"thickness":16.5,"opacity":1,"clip":true,"yOffset":32.8},
   "encoding":{"x":{"datum":29.65,"type":"quantitative","axis":null},"y":{"field":"v","type":"quantitative","axis":null},"color":{"field":"k","type":"nominal","legend":null}}},
  {"mark":{"type":"text","align":"left","baseline":"middle","fontSize":11.5,"clip":true,"yOffset":32.8},
   "encoding":{"x":{"datum":10.5,"type":"quantitative","axis":null},"y":{"field":"v","type":"quantitative","axis":null},"text":{"field":"v","type":"quantitative","format":".5f"},"color":{"condition":{"test":"datum.k=='l'","value":"#131722"},"value":"#ffffff"}}}
 ]},
{"data":{"name":"tags"},"transform":[{"filter":"datum.id==20"}],
 "layer":[
  {"mark":{"type":"tick","orient":"horizontal","size":58.7,"thickness":16.5,"opacity":1,"clip":true,"yOffset":4.1},
   "encoding":{"x":{"datum":29.65,"type":"quantitative","axis":null},"y":{"field":"v","type":"quantitative","axis":null},"color":{"field":"k","type":"nominal","legend":null}}},
  {"mark":{"type":"text","align":"left","baseline":"middle","fontSize":11.5,"clip":true,"yOffset":4.1},
   "encoding":{"x":{"datum":10.5,"type":"quantitative","axis":null},"y":{"field":"v","type":"quantitative","axis":null},"text":{"field":"v","type":"quantitative","format":".5f"},"color":{"condition":{"test":"datum.k=='l'","value":"#131722"},"value":"#ffffff"}}}
 ]},
{"data":{"name":"tags"},"transform":[{"filter":"datum.id==21"}],
 "layer":[
  {"mark":{"type":"tick","orient":"horizontal","size":58.7,"thickness":16.5,"opacity":1,"clip":true,"yOffset":13.6},
   "encoding":{"x":{"datum":29.65,"type":"quantitative","axis":null},"y":{"field":"v","type":"quantitative","axis":null},"color":{"field":"k","type":"nominal","legend":null}}},
  {"mark":{"type":"text","align":"left","baseline":"middle","fontSize":11.5,"clip":true,"yOffset":13.6},
   "encoding":{"x":{"datum":10.5,"type":"quantitative","axis":null},"y":{"field":"v","type":"quantitative","axis":null},"text":{"field":"v","type":"quantitative","format":".5f"},"color":{"condition":{"test":"datum.k=='l'","value":"#131722"},"value":"#ffffff"}}}
 ]}
]
}
]
}
